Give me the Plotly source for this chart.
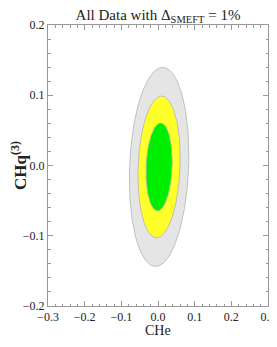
import numpy as np
import plotly.graph_objects as go

# Fit result
center = [0.003, -0.002]       # CHe, CHq(3)
sigma = [0.0236, 0.0412]       # 1-sigma widths
rho = 0.12                     # correlation
levels = ["3σ", "2σ", "1σ"]
delta_chi2 = [11.83, 5.99, 2.30]
fill_colors = ["#e5e5e5", "#ffff2a", "#00ee00"]
x_ticks = [-0.3, -0.2, -0.1, 0.0, 0.1, 0.2, 0.3]
y_ticks = [-0.2, -0.1, 0.0, 0.1, 0.2]

cov = np.array([[sigma[0]**2, rho*sigma[0]*sigma[1]],
                [rho*sigma[0]*sigma[1], sigma[1]**2]])
L = np.linalg.cholesky(cov)
t = np.linspace(0, 2*np.pi, 241)
circle = np.vstack([np.cos(t), np.sin(t)])

fig = go.Figure()
for name, d2, col in zip(levels, delta_chi2, fill_colors):
    pts = np.sqrt(d2) * (L @ circle)
    fig.add_trace(go.Scatter(
        x=center[0] + pts[0], y=center[1] + pts[1],
        mode="lines", fill="toself", fillcolor=col,
        line=dict(color="#b4b4b4", width=0.8), name=name,
        hoverinfo="skip", showlegend=False))

# the page body has an 8px margin, so the figure is offset by 8px
W, H = 269, 331
ml, mr, mt, mb = 40, 9, 17, 33
font = dict(family="Liberation Serif", size=12, color="#222")
axis_common = dict(
    showgrid=False, zeroline=False, showline=True, linecolor="#999",
    linewidth=1, mirror="ticks", ticks="inside", ticklen=5, tickcolor="#999",
    tickwidth=0.8, tickfont=font, automargin=False,
    minor=dict(ticks="inside", ticklen=2.5, tickcolor="#999", dtick=0.02, showgrid=False),
)
fig.update_layout(
    width=W, height=H,
    margin=dict(l=ml, r=mr, t=mt, b=mb),
    paper_bgcolor="white", plot_bgcolor="white",
    title=dict(text="All Data with Δ<sub>SMEFT</sub> = 1%",
               x=(ml + (W - ml - mr) / 2) / W, xanchor="center",
               y=1 - 7 / H, yanchor="middle",
               font=dict(family="Liberation Serif", size=15, color="#222")),
    xaxis=dict(range=[-0.3, 0.3], tickvals=x_ticks, tickformat=".1f", **axis_common),
    yaxis=dict(range=[-0.2, 0.2], tickvals=y_ticks, tickformat=".1f",
               title=dict(text="<b>CHq<sup>(3)</sup></b>", font=dict(family="Liberation Serif", size=17, color="#222"), standoff=4),
               **axis_common),
    annotations=[dict(text="CHe", xref="paper", yref="paper", x=0.5, y=0,
                      xanchor="center", yanchor="middle", yshift=-24, showarrow=False,
                      borderpad=0,
                      font=dict(family="Liberation Serif", size=14, color="#222"))],
)
fig.write_html("out.html")
